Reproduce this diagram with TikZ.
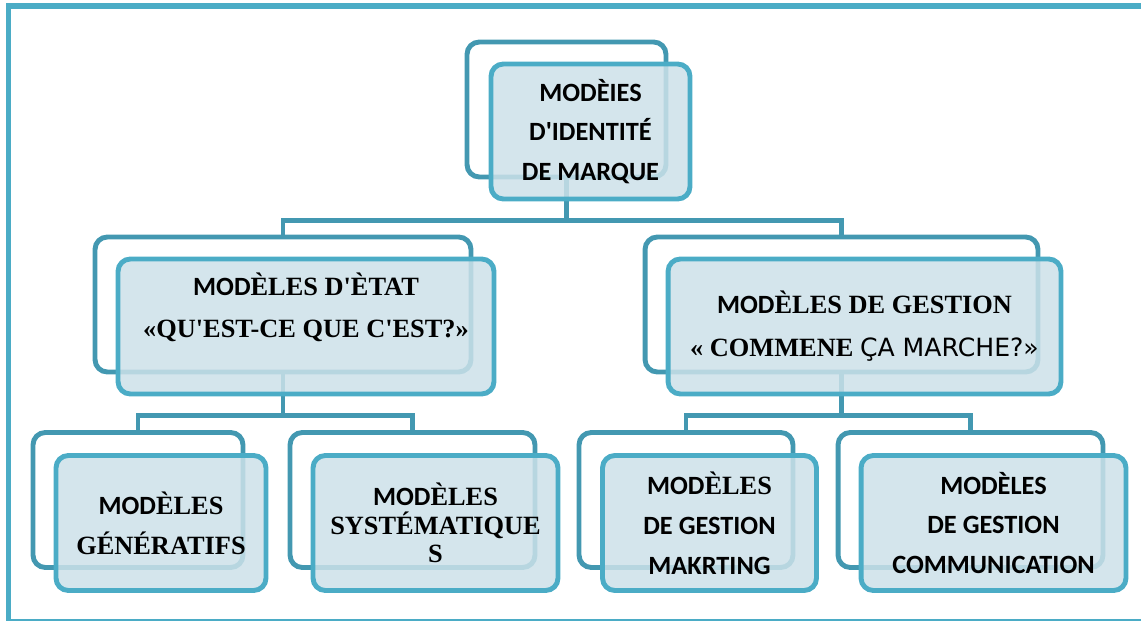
\documentclass[tikz,border=0pt]{standalone}
\usepackage{fontspec}
\setmainfont{Liberation Serif}
\newfontfamily\calib{Carlito}
\newfontfamily\dejav{DejaVu Sans}
\newcommand\ap{\textquotesingle}
\newcommand\mods{{\calib MOD}ÈLES}
\definecolor{framecol}{HTML}{4BACC6}
\definecolor{linkcol}{HTML}{4398B1}
\definecolor{boxfill}{HTML}{CCE1E9}
\tikzset{
  backbox/.style={draw=linkcol, line width=2.8pt, rounded corners=7pt, inner sep=0pt, minimum height=2.7cm},
  frontbox/.style={draw=framecol, line width=2.8pt, rounded corners=7pt, fill=boxfill, fill opacity=0.85,
    text opacity=1, align=center, inner sep=0pt, minimum height=2.7cm, font=\bfseries\fontsize{15}{22.7}\selectfont},
  calibri/.style={font=\calib\bfseries\fontsize{15}{22.7}\selectfont},
  link/.style={draw=linkcol, line width=2.6pt}
}
\begin{document}
\begin{tikzpicture}[x=0.02cm,y=-0.02cm]
  \useasboundingbox (0,0) rectangle (1141,621);
  \clip (0,0) rectangle (1141,621);
  \draw[framecol, line width=3.4pt] (8.5,6) rectangle (1160,622);

  \node[backbox, minimum width=3.98cm] (identb) at (566.5,109.5) {};
  \node[backbox, minimum width=7.52cm] (etatb) at (283,304.5) {};
  \node[backbox, minimum width=7.86cm] (gestb) at (841.5,304.5) {};
  \node[backbox, minimum width=4.2cm] (genb) at (138,500) {};
  \node[backbox, minimum width=4.9cm] (sysb) at (412.5,500) {};
  \node[backbox, minimum width=4.28cm] (mktb) at (686,500) {};
  \node[backbox, minimum width=5.3cm] (comb) at (970.5,500) {};

  \draw[link] (identb.south) -- ++(0,41) -| (etatb.north);
  \draw[link] (identb.south) -- ++(0,41) -| (gestb.north);
  \draw[link] (etatb.south) -- ++(0,41) -| (genb.north);
  \draw[link] (etatb.south) -- ++(0,41) -| (sysb.north);
  \draw[link] (gestb.south) -- ++(0,41) -| (mktb.north);
  \draw[link] (gestb.south) -- ++(0,41) -| (comb.north);

  \node[frontbox, calibri, minimum width=3.98cm] (ident) at (590.5,131.5)
    {MODÈIES\\ D\ap IDENTITÉ\\ DE MARQUE};
  \node[frontbox, minimum width=7.52cm, font=\bfseries\fontsize{15}{23.8}\selectfont] (etat) at (306,326.5)
    {\mods{} D\ap ÈTAT\\ «QU\ap EST-CE QUE C\ap EST?»\\ \mbox{}};
  \node[frontbox, minimum width=7.86cm, font=\bfseries\fontsize{15}{24.5}\selectfont] (gest) at (864.5,326.5)
    {\mods{} DE GESTION\\ « COMMENE {\dejav\mdseries\fontsize{14.3}{24.5}\selectfont ÇA MARCHE?»}};
  \node[frontbox, minimum width=4.2cm] (gen) at (161,523)
    {\mods\\ GÉNÉRATIFS};
  \node[frontbox, minimum width=4.9cm, font=\bfseries\fontsize{15}{16.3}\selectfont] (sys) at (435.5,523)
    {\mods\\ SYSTÉMATIQUE\\ S};
  \node[frontbox, minimum width=4.28cm] (mkt) at (709.5,523)
    {\mods\\ {\calib DE GESTION}\\ {\calib MAKRTING}};
  \node[frontbox, calibri, minimum width=5.3cm] (com) at (993.5,523)
    {MODÈLES\\ DE GESTION\\ COMMUNICATION};
\end{tikzpicture}
\end{document}
